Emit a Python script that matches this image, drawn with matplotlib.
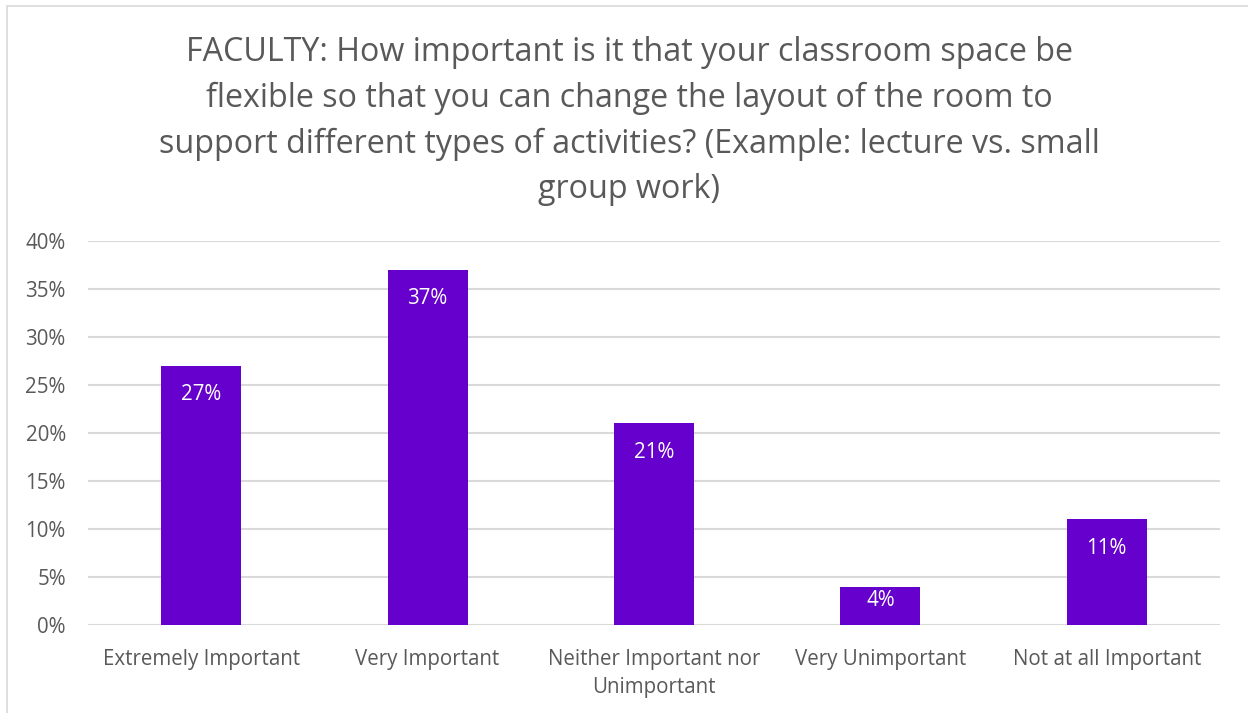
import matplotlib
matplotlib.use("Agg")
import matplotlib.pyplot as plt
from matplotlib.patches import Rectangle

categories = ["Extremely Important", "Very Important", "Neither Important nor\nUnimportant",
              "Very Unimportant", "Not at all Important"]
values = [0.27, 0.37, 0.21, 0.04, 0.11]
yticks = [0, 0.05, 0.10, 0.15, 0.20, 0.25, 0.30, 0.35, 0.40]
ytick_labels = ["0%", "5%", "10%", "15%", "20%", "25%", "30%", "35%", "40%"]
title = ("FACULTY: How important is it that your classroom space be\n"
         "flexible so that you can change the layout of the room to\n"
         "support different types of activities? (Example: lecture vs. small\n"
         "group work)")

plt.rcParams['font.family'] = ['Open Sans', 'DejaVu Sans']
W, H = 1248, 713
fig = plt.figure(figsize=(W / 100, H / 100), dpi=100)
fig.patch.set_facecolor("white")

# outer chart border
fig.add_artist(Rectangle((7 / W, -0.1), 1.2, 1 - 6 / H + 0.1, transform=fig.transFigure,
                         fill=False, edgecolor="#D9D9D9", linewidth=1.2))

ax = fig.add_axes([88 / W, 1 - 625 / H, (1220 - 88) / W, (625 - 241) / H])
x = range(len(categories))
bars = ax.bar(x, values, width=0.353, color="#6600CC", zorder=3)
ax.set_xlim(-0.5, len(categories) - 0.5)
ax.set_ylim(0, 0.40)
ax.set_yticks(yticks)
ax.set_yticklabels(ytick_labels)
ax.set_xticks(list(x))
ax.set_xticklabels(categories, linespacing=1.45, va="top")
ax.tick_params(axis="both", length=0, labelsize=14.8, colors="#595959")
ax.tick_params(axis="x", pad=17)
ax.tick_params(axis="y", pad=16)
ax.grid(axis="y", color="#D9D9D9", linewidth=1.5, zorder=0)
for s in ax.spines.values():
    s.set_visible(False)

for xi, v in zip(x, values):
    bar_px = ax.transData.transform((xi, v))[1] - ax.transData.transform((xi, 0))[1]
    off = min(29, bar_px - 25)
    ax.annotate(f"{round(v * 100)}%", (xi, v), xytext=(0, -off), textcoords="offset pixels",
                ha="center", va="center", color="white", fontsize=14.8)

fig.text(629 / W, 1 - 121 / H, title, ha="center", va="center",
         fontsize=23.2, color="#595959", linespacing=1.5)

fig.savefig("out.png", dpi=100)
